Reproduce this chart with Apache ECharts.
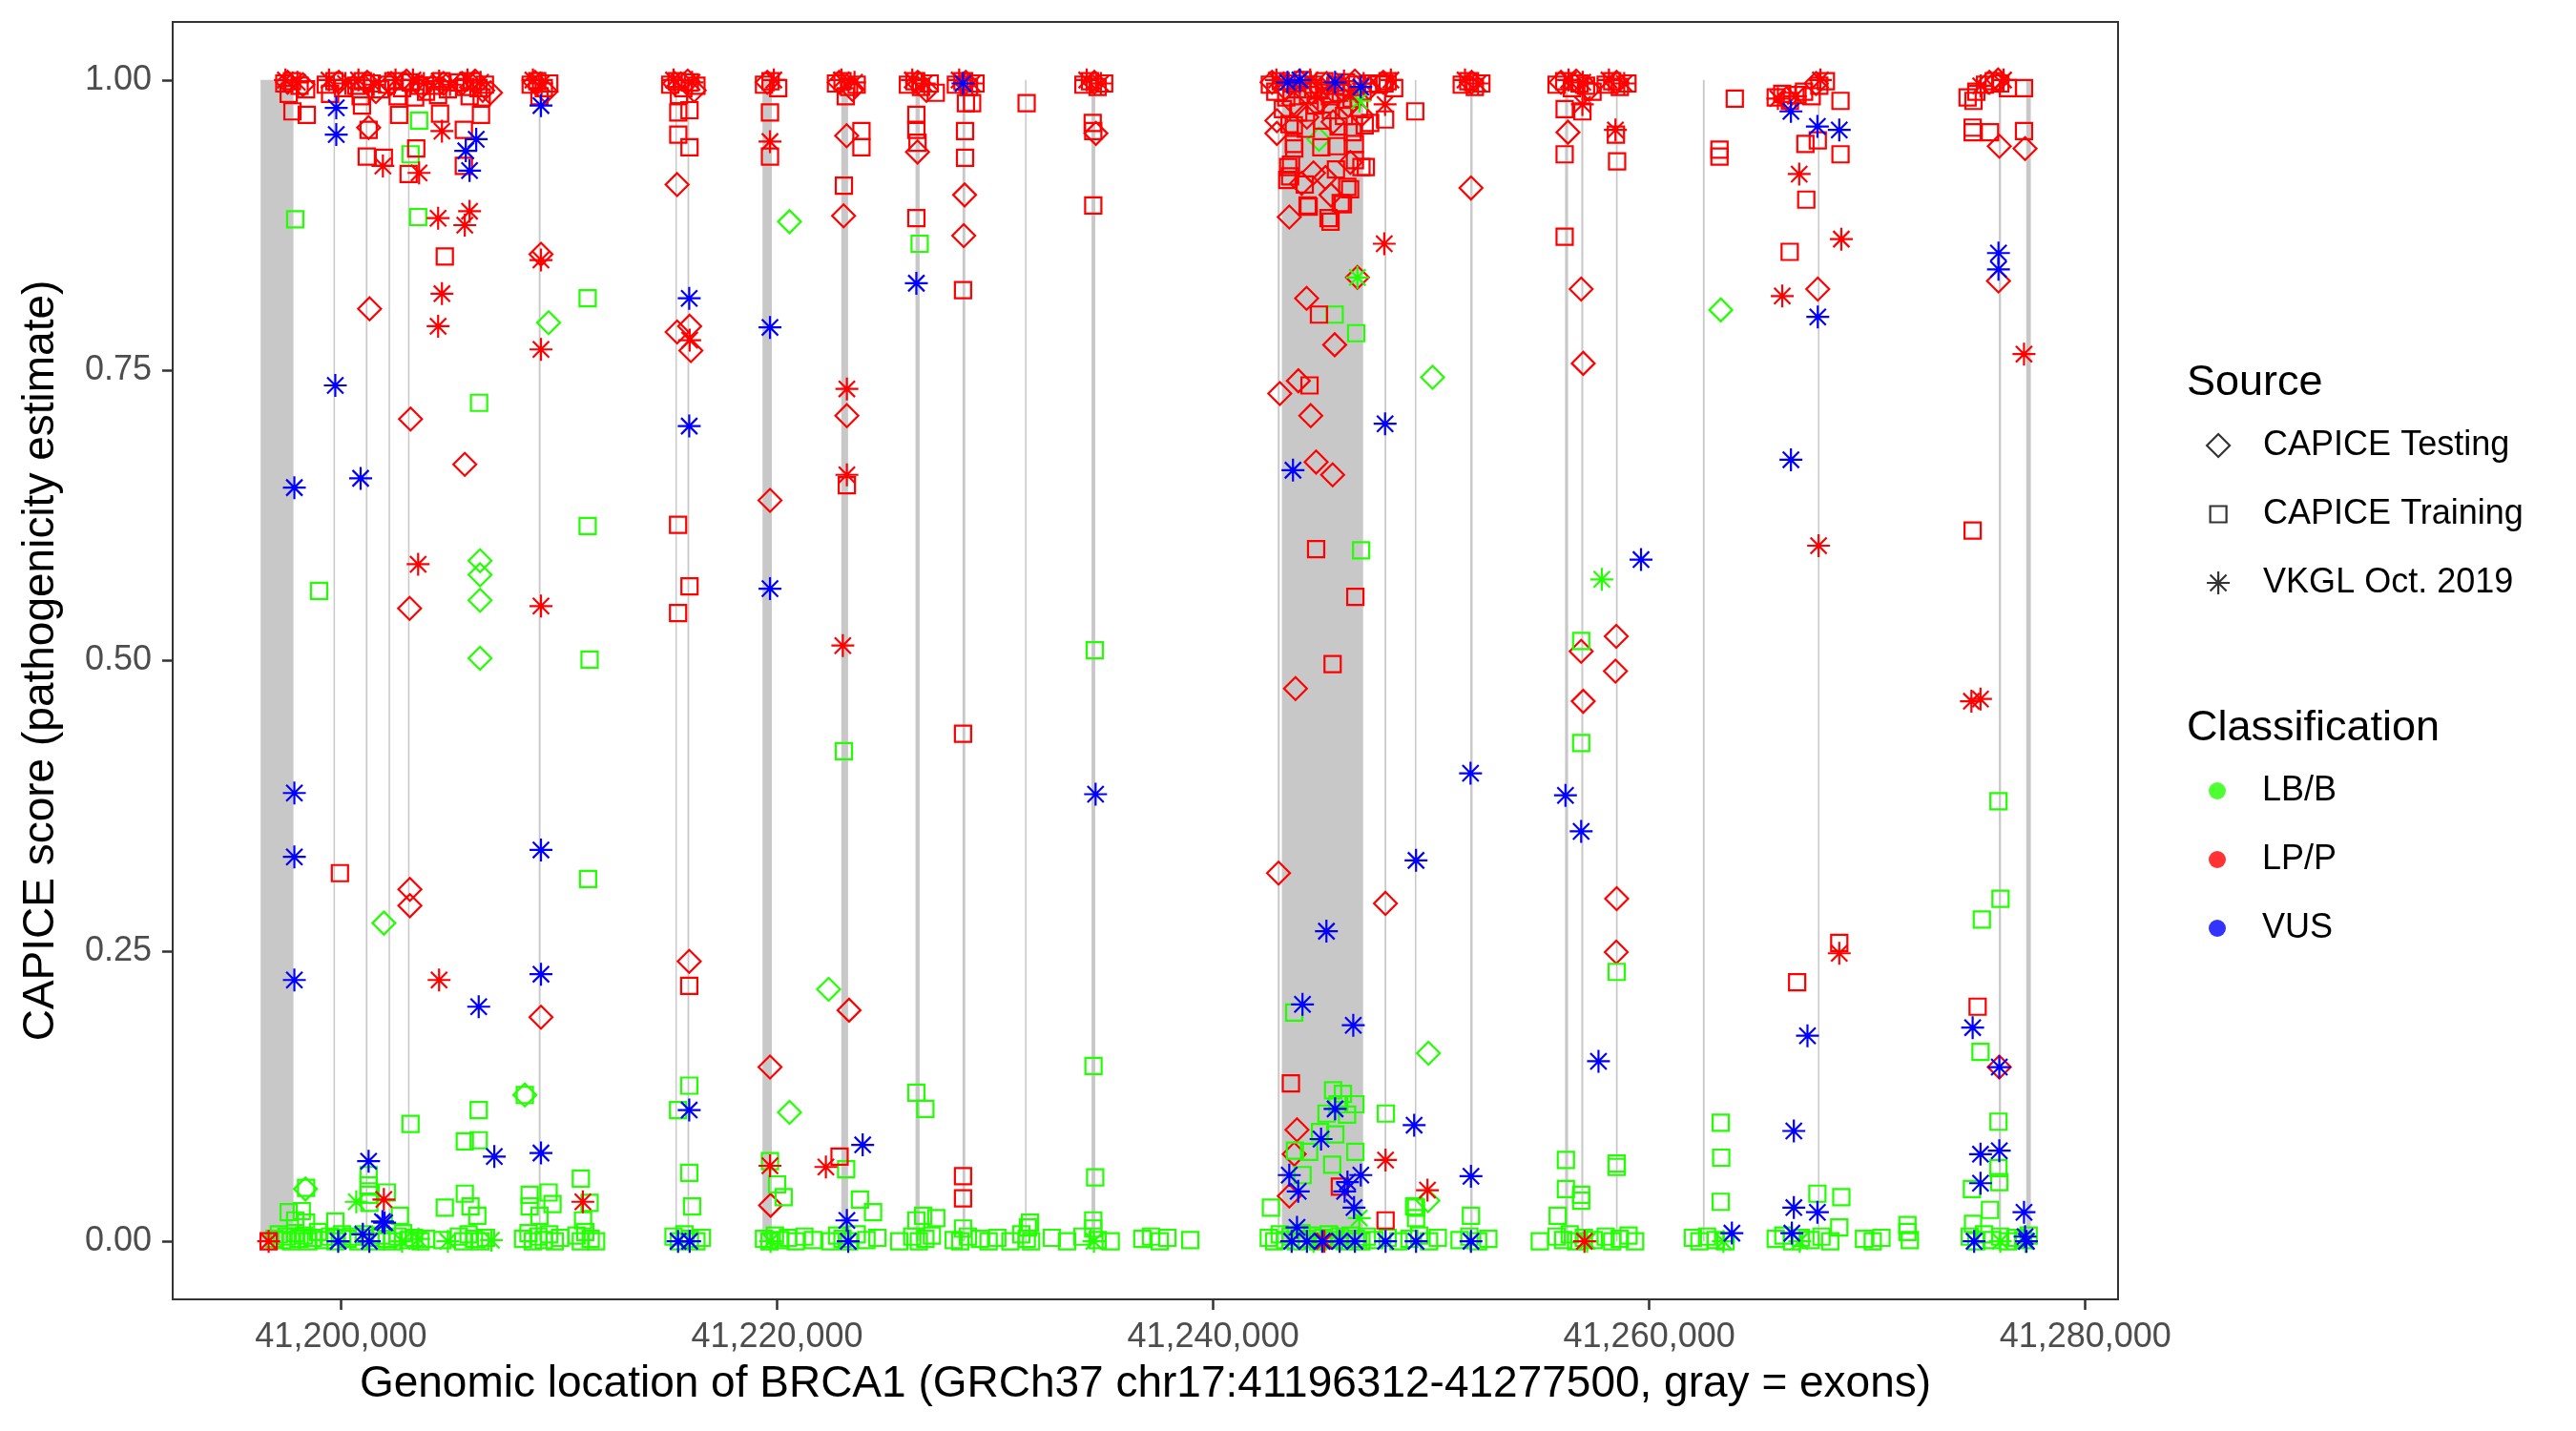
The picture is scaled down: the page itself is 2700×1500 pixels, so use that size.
<!DOCTYPE html>
<html><head><meta charset="utf-8">
<script src="https://cdn.jsdelivr.net/npm/echarts@6/dist/echarts.min.js"></script>
<style>html,body{margin:0;padding:0;background:#fff}#c{width:2700px;height:1500px}</style>
</head><body><div id="c"></div>
<script>
// ---------------- DATA ----------------
const xTicks = [41200000, 41220000, 41240000, 41260000, 41280000];
const yTicks = [0, 0.25, 0.5, 0.75, 1];
const sourceNames = ['CAPICE Testing', 'CAPICE Training', 'VKGL Oct. 2019'];
const classNames = ['LB/B', 'LP/P', 'VUS'];

// exon [start, end] (bp)
const exons = [
  [41196312,41197819],[41199660,41199720],[41201138,41201211],[41202190,41202240],[41203080,41203134],
  [41209069,41209152],[41215350,41215390],[41215891,41215968],[41219330,41219760],[41222945,41223255],
  [41226348,41226538],[41228505,41228631],[41231380,41231430],[41234421,41234592],[41242961,41243049],
  [41243150,41246877],[41247863,41247939],[41249261,41249306],[41251792,41251897],[41256139,41256278],
  [41256885,41256973],[41258473,41258550],[41262460,41262540],[41267743,41267796],[41276034,41276132],
  [41277290,41277500]
];

// CAPICE Testing (diamonds)
const testingLB = [
  [41201965,0.274],[41206376,0.586],[41206376,0.574],[41206376,0.552],[41206376,0.502],[41209520,0.791],
  [41208430,0.126],[41198370,0.045],[41220569,0.878],[41220569,0.111],[41222363,0.217],[41244850,0.949],
  [41250062,0.744],[41249872,0.162],[41249850,0.035],[41263279,0.802]
];
const testingLP = [
  [41201310,0.803],[41203188,0.708],[41203145,0.545],[41203159,0.303],[41203159,0.289],[41205677,0.669],
  [41206856,0.989],[41201266,0.959],[41209171,0.850],[41209171,0.193],
  [41215415,0.910],[41215415,0.783],[41215990,0.788],[41216045,0.767],[41215970,0.241],
  [41219674,0.638],[41219674,0.150],[41219700,0.031],
  [41223050,0.883],[41223190,0.952],[41223200,0.711],[41223300,0.199],
  [41226440,0.938],[41228600,0.901],[41228560,0.866],[41234620,0.954],
  [41242922,0.965],[41242922,0.954],[41243490,0.882],[41244285,0.812],[41245573,0.772],[41243054,0.730],
  [41243906,0.741],[41244475,0.711],[41244721,0.671],[41245478,0.660],[41246615,0.830],[41243774,0.476],
  [41242997,0.317],[41243844,0.096],[41243717,0.075],[41243490,0.039],[41244600,0.920],[41245150,0.916],
  [41245400,0.901],[41244060,0.911],[41246290,0.929],
  [41247901,0.291],[41251823,0.907],
  [41256271,0.955],[41256877,0.820],[41256972,0.756],[41256877,0.508],[41258487,0.521],[41258449,0.491],
  [41256972,0.465],[41258506,0.295],[41258487,0.249],
  [41267729,0.820],[41276054,0.943],[41277236,0.941],[41276016,0.827],[41276054,0.150]
];
const testingLPTop = [
  [41197550,0.998],[41198250,0.996],[41199900,0.998],[41201200,0.998],[41201600,0.990],
  [41202300,0.997],[41203000,0.999],[41203700,0.994],[41204700,0.997],[41205550,0.997],[41206150,0.999],
  [41206500,0.991],[41208900,0.998],[41209400,0.990],[41215300,0.997],[41215900,0.999],[41216200,0.991],
  [41219550,0.998],[41222850,0.998],[41223450,0.992],[41226450,0.998],[41226850,0.991],[41228650,0.998],
  [41234550,0.998],[41242700,0.998],[41243300,0.993],[41243950,0.999],[41244500,0.994],[41245200,0.997],
  [41245900,0.992],[41246500,0.999],[41247150,0.993],[41243700,0.980],[41244900,0.982],[41246200,0.978],
  [41244300,0.968],[41245500,0.964],[41246800,0.970],[41247800,0.998],[41251850,0.998],[41255950,0.998],
  [41256650,0.999],[41257250,0.992],[41258500,0.998],[41266300,0.984],[41267650,0.997],[41275600,0.998],
  [41276000,1.000]
];
const testingVUS = [];

// CAPICE Training (squares)
const trainingLB = [
  [41197900,0.880],[41198996,0.560],[41203581,0.965],[41203188,0.936],[41203537,0.882],[41206332,0.722],
  [41211311,0.812],[41211311,0.616],[41211400,0.501],[41211331,0.312],[41206315,0.113],[41205677,0.086],
  [41206315,0.087],[41203188,0.101],[41208430,0.126],[41201266,0.057],[41201266,0.048],[41201266,0.040],
  [41201300,0.033],[41202100,0.042],[41202700,0.022],[41204760,0.029],[41205677,0.041],[41205940,0.030],
  [41206250,0.022],[41211000,0.054],[41211400,0.033],[41211100,0.018],[41208650,0.040],[41208650,0.030],
  [41209520,0.042],[41209700,0.032],[41209100,0.022],[41198400,0.046],[41197600,0.025],[41197900,0.018],
  [41198200,0.026],[41198400,0.016],[41199738,0.017],
  [41215970,0.134],[41215459,0.113],[41215970,0.059],[41216100,0.030],[41219674,0.069],[41220000,0.049],
  [41220300,0.038],[41223064,0.422],[41223167,0.062],[41223800,0.036],[41224400,0.025],[41226538,0.859],
  [41226387,0.128],[41226800,0.114],[41226387,0.018],[41226700,0.022],[41227300,0.020],[41234569,0.509],
  [41234512,0.151],[41234588,0.055],[41234500,0.018],[41234500,0.011],[41228527,0.011],[41231500,0.012],
  [41231600,0.016],
  [41245573,0.798],[41246558,0.782],[41246785,0.595],[41243717,0.197],[41245500,0.130],[41245950,0.127],
  [41246520,0.118],[41246140,0.109],[41244400,0.077],[41245600,0.092],[41246520,0.077],[41247922,0.110],
  [41245700,0.118],[41245200,0.110],[41244900,0.094],[41244100,0.057],[41245460,0.066],[41243750,0.078],
  [41249217,0.030],[41249304,0.020],[41242650,0.029],[41251823,0.022],[41249304,0.029],
  [41256877,0.517],[41256877,0.429],[41258506,0.232],[41256176,0.070],[41256176,0.045],[41256877,0.040],
  [41256877,0.035],[41255800,0.022],[41258506,0.067],[41258506,0.064],[41263279,0.102],[41263300,0.072],
  [41263279,0.034],[41267711,0.041],[41268809,0.038],[41268714,0.012],[41271840,0.014],[41271840,0.008],
  [41276016,0.379],[41276110,0.295],[41275253,0.277],[41275192,0.163],[41276016,0.103],[41276016,0.063],
  [41276054,0.051],[41274800,0.045],[41275627,0.027],[41274850,0.015]
];
const trainingLBZero = [
  [41196950,0.002],[41197150,0.006],[41197300,0.001],[41197500,0.004],[41197700,0.000],[41197900,0.007],
  [41198100,0.002],[41198300,0.005],[41198500,0.000],[41198700,0.003],[41198950,0.008],[41199200,0.001],
  [41199500,0.004],[41199750,0.000],[41200050,0.006],[41200300,0.002],[41200550,0.004],[41200800,0.000],
  [41201050,0.006],[41201350,0.003],[41201600,0.000],[41201850,0.005],[41202100,0.002],[41202350,0.000],
  [41202600,0.004],[41202850,0.007],[41203100,0.001],[41203350,0.003],[41203650,0.000],[41203900,0.002],
  [41204650,0.001],[41205400,0.004],[41205600,0.000],[41205850,0.006],[41206100,0.002],[41206400,0.000],
  [41206650,0.003],[41208350,0.002],[41208600,0.007],[41208800,0.000],[41209050,0.004],[41209300,0.001],
  [41209550,0.006],[41209800,0.000],[41210050,0.003],[41210800,0.005],[41211000,0.000],[41211200,0.008],
  [41211450,0.002],[41211700,0.000],
  [41215250,0.004],[41215500,0.000],[41215750,0.006],[41216000,0.002],[41216300,0.000],[41216550,0.003],
  [41219400,0.002],[41219650,0.000],[41219900,0.005],[41220150,0.001],[41220500,0.003],[41220850,0.000],
  [41221250,0.004],[41221650,0.001],[41222450,0.000],[41222750,0.005],[41223000,0.002],[41223300,0.000],
  [41223650,0.006],[41224100,0.001],[41224600,0.003],[41225600,0.000],[41226200,0.004],[41226500,0.000],
  [41226800,0.002],[41227100,0.005],[41228100,0.001],[41228400,0.000],[41228750,0.004],[41229300,0.002],
  [41229700,0.000],[41230100,0.003],[41230700,0.000],[41231200,0.006],[41231450,0.002],[41231650,0.000],
  [41232600,0.003],[41233300,0.000],[41234000,0.004],[41234700,0.001],[41235300,0.000],[41236750,0.002],
  [41237150,0.004],[41237550,0.000],[41237900,0.003],[41238950,0.001],
  [41242550,0.003],[41242800,0.000],[41243050,0.006],[41243300,0.001],[41243550,0.004],[41243800,0.000],
  [41244050,0.007],[41244300,0.002],[41244550,0.005],[41244800,0.000],[41245050,0.003],[41245300,0.006],
  [41245550,0.001],[41245800,0.004],[41246050,0.000],[41246300,0.005],[41246550,0.002],[41246800,0.000],
  [41247050,0.004],[41247400,0.001],[41248000,0.003],[41248500,0.000],[41249000,0.002],[41249450,0.005],
  [41249900,0.000],[41250300,0.003],[41251300,0.001],[41251750,0.004],[41252150,0.000],
  [41252620,0.002],[41254980,0.000],[41255750,0.004],[41256050,0.001],[41256350,0.006],[41256650,0.000],
  [41257000,0.003],[41257450,0.001],[41258000,0.004],[41258300,0.000],[41258650,0.002],[41259050,0.005],
  [41259350,0.000],[41262000,0.003],[41262300,0.000],[41262650,0.004],[41263050,0.001],[41263500,0.000],
  [41265800,0.002],[41266150,0.005],[41266550,0.000],[41266950,0.003],[41267400,0.001],[41267900,0.004],
  [41268300,0.000],[41269850,0.002],[41270250,0.000],[41270650,0.003],[41271950,0.001],[41274700,0.004],
  [41275000,0.000],[41275350,0.006],[41275700,0.001],[41276100,0.004],[41276450,0.000],[41276800,0.003],
  [41277150,0.001],[41277400,0.005]
];
const trainingLP = [
  [41197773,0.973],[41198428,0.970],[41199950,0.317],[41200961,0.978],[41201266,0.957],[41201179,0.934],
  [41201965,0.933],[41202664,0.970],[41203101,0.919],[41203450,0.941],[41204542,0.971],[41205633,0.957],
  [41205633,0.926],[41206419,0.970],[41204760,0.848],[41196681,0.000],
  [41215468,0.953],[41215983,0.942],[41215468,0.972],[41215983,0.974],[41215459,0.617],[41215983,0.564],
  [41215459,0.541],[41215970,0.220],[41219674,0.972],[41219674,0.934],
  [41223064,0.909],[41223868,0.956],[41223868,0.942],[41223200,0.651],[41222864,0.073],
  [41226387,0.970],[41226387,0.957],[41226440,0.946],[41226387,0.881],[41227277,0.989],
  [41228660,0.980],[41228944,0.980],[41228620,0.956],[41228620,0.933],[41228527,0.819],[41228527,0.437],
  [41228527,0.056],[41228527,0.037],[41231444,0.980],[41234474,0.963],[41234500,0.956],[41234500,0.892],
  [41244380,0.891],[41245384,0.878],[41245950,0.893],[41246280,0.906],[41243570,0.927],[41243530,0.917],
  [41243720,0.941],[41247000,0.925],[41244853,0.798],[41244418,0.737],[41244721,0.596],[41246520,0.555],
  [41245478,0.497],[41243565,0.136],[41245810,0.047],[41247906,0.018],
  [41243440,0.925],[41243400,0.914],[41244200,0.910],[41244330,0.892],[41245290,0.881],[41245850,0.894],
  [41246150,0.908],[41246800,0.925],[41246500,0.931],[41245630,0.923],[41245660,0.943],[41244960,0.942],
  [41243700,0.945],[41246500,0.945],[41246950,0.961],[41243700,0.961],
  [41247884,0.966],[41247863,0.997],[41249266,0.973],
  [41256119,0.975],[41256119,0.936],[41256119,0.865],[41256934,0.973],[41258470,0.953],[41258525,0.930],
  [41263923,0.984],[41263221,0.940],[41263221,0.934],[41267161,0.945],[41267200,0.897],[41267729,0.948],
  [41268771,0.982],[41268771,0.936],[41266441,0.852],[41268714,0.257],[41266782,0.223],
  [41274870,0.982],[41274832,0.959],[41274832,0.955],[41275627,0.955],[41277187,0.993],[41277187,0.956],
  [41274832,0.612],[41275060,0.202]
];
const trainingLPTop = [
  [41197400,0.997],[41197750,0.999],[41198100,0.995],[41198400,0.992],[41197600,0.988],
  [41199300,0.996],[41199700,0.999],[41200100,0.993],[41199500,0.988],
  [41200700,0.995],[41201000,0.999],[41201400,0.997],[41201800,0.992],[41200900,0.986],
  [41202100,0.996],[41202400,0.999],[41202800,0.993],[41203200,0.998],[41203600,0.995],[41203900,0.990],
  [41202600,0.986],[41203400,0.985],
  [41204300,0.995],[41204600,0.999],[41204900,0.992],[41204450,0.987],
  [41205400,0.998],[41205700,0.994],[41206000,0.999],[41206300,0.993],[41206600,0.996],[41205900,0.986],
  [41206450,0.985],
  [41208700,0.996],[41209000,0.999],[41209300,0.993],[41209550,0.997],[41209100,0.986],
  [41215100,0.996],[41215400,0.999],[41215700,0.993],[41216000,0.998],[41216300,0.995],[41215500,0.987],
  [41219400,0.996],[41219700,0.999],[41220050,0.993],
  [41222700,0.997],[41223000,0.999],[41223300,0.994],[41223650,0.996],[41223150,0.986],
  [41226000,0.996],[41226300,0.999],[41226600,0.994],[41227000,0.997],
  [41228200,0.996],[41228500,0.999],[41228800,0.994],[41229100,0.997],
  [41234050,0.996],[41234350,0.999],[41234700,0.994],[41235000,0.997],
  [41242600,0.996],[41242850,0.990],[41243100,0.999],[41243350,0.985],[41243600,0.997],[41243850,0.992],
  [41244100,1.000],[41244350,0.987],[41244600,0.996],[41244850,0.991],[41245100,0.999],[41245350,0.986],
  [41245600,0.995],[41245850,0.989],[41246100,0.998],[41246350,0.984],[41246600,0.996],[41246850,0.990],
  [41247100,0.997],[41243200,0.975],[41243900,0.972],[41244700,0.978],[41245400,0.974],[41246000,0.969],
  [41246700,0.976],[41243500,0.962],[41244250,0.958],[41245000,0.965],[41245750,0.960],[41246400,0.955],
  [41247200,0.963],
  [41247600,0.996],[41248000,0.999],[41248300,0.993],
  [41251400,0.996],[41251700,0.999],[41252000,0.994],[41252300,0.997],
  [41255750,0.996],[41256100,0.999],[41256450,0.993],[41256800,0.997],[41257100,0.995],[41257400,0.990],
  [41258000,0.996],[41258300,0.999],[41258650,0.994],[41259000,0.997],
  [41265800,0.985],[41266100,0.988],[41266450,0.982],[41266800,0.987],[41267100,0.990],[41267450,0.986],
  [41267800,0.995],[41268100,0.999],
  [41274600,0.985],[41275000,0.990],[41275400,0.996],[41275800,0.999],[41276100,0.997],[41276450,0.993]
];
const trainingVUS = [];

// VKGL Oct. 2019 (asterisks)
const vkglLB = [
  [41246709,0.982],[41246615,0.830],[41257824,0.570],[41200700,0.034],[41202800,0.000],[41203550,0.002],
  [41204900,0.000],[41206900,0.001],[41219700,0.000],[41234531,0.000],[41244600,0.000],[41245700,0.003],
  [41246700,0.020],[41257150,0.000],[41263400,0.000],[41266900,0.000],[41276100,0.000],[41277250,0.000]
];
const vkglLP = [
  [41201921,0.926],[41203581,0.920],[41204629,0.956],[41204454,0.881],[41205677,0.875],[41205896,0.887],
  [41204629,0.816],[41204454,0.788],[41203537,0.583],[41204498,0.225],[41209171,0.845],[41209171,0.768],
  [41209171,0.547],[41201965,0.036],[41211092,0.034],[41196681,0.000],
  [41215990,0.776],[41219674,0.947],[41219674,0.065],[41223200,0.734],[41223200,0.660],[41223014,0.513],
  [41222238,0.064],[41247846,0.859],[41247906,0.070],[41249828,0.044],[41247884,0.979],
  [41256934,0.979],[41258449,0.957],[41266877,0.919],[41268809,0.863],[41266100,0.814],[41267767,0.599],
  [41268714,0.248],[41274775,0.465],[41275192,0.467],[41277187,0.764],[41257028,0.000],[41245100,0.000]
];
const vkglLPTop = [
  [41197450,1.000],[41198000,0.998],[41199450,1.000],[41200200,0.997],[41200800,1.000],[41201500,0.996],
  [41202500,1.000],[41203300,1.000],[41203800,0.997],[41204500,0.999],[41205000,0.996],[41205800,1.000],
  [41206400,0.998],[41208800,1.000],[41209200,0.997],[41215250,1.000],[41216100,0.998],[41219850,1.000],
  [41222950,1.000],[41223550,0.998],[41226200,1.000],[41226750,0.997],[41228350,1.000],[41228950,0.997],
  [41234200,1.000],[41234850,0.997],[41242900,1.000],[41243750,0.997],[41244450,1.000],[41245300,0.996],
  [41246000,0.999],[41246900,0.997],[41244800,0.985],[41246300,0.987],[41248150,1.000],[41251550,1.000],
  [41252150,0.997],[41256300,1.000],[41256950,0.998],[41258150,1.000],[41258850,0.997],[41265900,0.984],
  [41266700,0.986],[41267850,1.000],[41275200,0.995],[41276250,1.000]
];
const vkglVUS = [
  [41199782,0.976],[41199782,0.953],[41199738,0.737],[41197860,0.649],[41197860,0.386],[41197860,0.331],
  [41197860,0.225],[41200900,0.657],[41206201,0.949],[41205721,0.939],[41205896,0.922],[41209171,0.978],
  [41209171,0.337],[41209171,0.230],[41209171,0.076],[41206315,0.202],[41207031,0.073],[41201266,0.069],
  [41199870,0.000],[41201000,0.006],[41201300,0.000],[41202000,0.016],[41201900,0.017],
  [41215970,0.812],[41215970,0.702],[41215970,0.113],[41215459,0.000],[41215990,0.000],
  [41219674,0.787],[41219674,0.562],[41223925,0.083],[41223262,0.000],[41223200,0.018],
  [41226387,0.825],[41228527,0.997],[41234607,0.385],
  [41243410,0.998],[41243976,1.000],[41245592,0.998],[41246771,0.994],[41243660,0.664],[41245194,0.267],
  [41244096,0.204],[41246425,0.186],[41245592,0.114],[41244948,0.088],[41243490,0.057],[41243900,0.043],
  [41246771,0.057],[41246160,0.051],[41246030,0.043],[41246460,0.029],[41243844,0.012],[41244300,0.000],
  [41245000,0.000],[41245800,0.000],[41246500,0.000],[41243600,0.000],
  [41247884,0.704],[41247906,0.000],[41249217,0.100],[41249304,0.328],[41249304,0.000],[41251804,0.403],
  [41251823,0.056],[41251823,0.000],
  [41256157,0.384],[41256877,0.353],[41257672,0.155],[41259623,0.587],[41263790,0.007],
  [41266498,0.973],[41267711,0.960],[41268714,0.957],[41267729,0.796],[41266498,0.673],[41267256,0.177],
  [41266631,0.095],[41266631,0.029],[41267711,0.025],[41266540,0.007],
  [41276016,0.851],[41276016,0.837],[41274832,0.184],[41276054,0.150],[41275192,0.075],[41276054,0.078],
  [41275192,0.050],[41277187,0.025],[41277236,0.004],[41274900,0.000],[41277300,0.000]
];

// ---------------- STYLE ----------------
const FONT = 'Liberation Sans';
const COLORS = {'LB/B': '#22FF00', 'LP/P': '#FF0000', 'VUS': '#0000FF'};
const ASTERISK = 'path://M5,0L5,10M0,5L10,5M1.464,1.464L8.536,8.536M1.464,8.536L8.536,1.464';
const SHAPES = {
  'CAPICE Testing': {symbol: 'diamond', size: 24},
  'CAPICE Training': {symbol: 'rect', size: 17},
  'VKGL Oct. 2019': {symbol: ASTERISK, size: 24}
};
const LEGEND_ICONS = {
  'CAPICE Testing': 'path://M12,0L24,12L12,24L0,12Z',
  'CAPICE Training': 'path://M0,0M24,24M3.5,3.5L20.5,3.5L20.5,20.5L3.5,20.5Z',
  'VKGL Oct. 2019': ASTERISK
};
const DOT = 'path://M0,0M24,24M3,12A9,9,0,1,1,21,12A9,9,0,1,1,3,12Z';

function pts(name, data, source, cls) {
  return {
    name: name, type: 'scatter', data: data, silent: true, animation: false,
    symbol: SHAPES[source].symbol, symbolSize: SHAPES[source].size,
    itemStyle: {color: 'rgba(0,0,0,0)', borderColor: COLORS[cls], borderWidth: 2.2, opacity: 1},
    z: 3
  };
}

const series = [
  {
    name: 'exons', type: 'custom', data: exons, silent: true, animation: false, z: 1,
    encode: {x: [0, 1]},
    renderItem: function (params, api) {
      const a = api.coord([api.value(0), 1]);
      const b = api.coord([api.value(1), 0]);
      let x = a[0], w = b[0] - a[0];
      if (w < 1.5) { x = (a[0] + b[0]) / 2 - 0.75; w = 1.5; }
      return {type: 'rect', shape: {x: x, y: a[1], width: w, height: b[1] - a[1]},
              style: {fill: '#C8C8C8'}};
    }
  },
  pts('t-lb', testingLB, 'CAPICE Testing', 'LB/B'),
  pts('t-lp', testingLP.concat(testingLPTop), 'CAPICE Testing', 'LP/P'),
  pts('t-vus', testingVUS, 'CAPICE Testing', 'VUS'),
  pts('tr-lb', trainingLB.concat(trainingLBZero), 'CAPICE Training', 'LB/B'),
  pts('tr-lp', trainingLP.concat(trainingLPTop), 'CAPICE Training', 'LP/P'),
  pts('tr-vus', trainingVUS, 'CAPICE Training', 'VUS'),
  pts('v-lb', vkglLB, 'VKGL Oct. 2019', 'LB/B'),
  pts('v-lp', vkglLP.concat(vkglLPTop), 'VKGL Oct. 2019', 'LP/P'),
  pts('v-vus', vkglVUS, 'VKGL Oct. 2019', 'VUS')
];
// legend-only series
sourceNames.forEach(function (n) {
  series.push({name: n, type: 'scatter', data: [], symbol: LEGEND_ICONS[n],
    itemStyle: {color: 'rgba(0,0,0,0)', borderColor: '#000', borderWidth: 2.2}});
});
classNames.forEach(function (n) {
  series.push({name: n, type: 'scatter', data: [], symbol: DOT, itemStyle: {color: COLORS[n]}});
});

const legendText = {fontSize: 36, color: '#000', fontFamily: FONT, padding: [0, 0, 0, 30], lineHeight: 36};

const option = {
  backgroundColor: '#fff',
  animation: false,
  grid: {left: 181, right: 480, top: 23, bottom: 138, show: true, borderColor: '#333333', borderWidth: 2, backgroundColor: '#fff', containLabel: false},
  xAxis: {
    type: 'value', min: 41192280, max: 41281500,
    splitLine: {show: false}, axisLine: {show: false, onZero: false},
    axisTick: {show: true, length: 11, lineStyle: {color: '#333333', width: 2.5}, customValues: xTicks},
    axisLabel: {customValues: xTicks, fontSize: 36, color: '#4D4D4D', fontFamily: FONT, margin: 22,
      formatter: function (v) { return Number(v).toLocaleString('en-US'); }},
    name: 'Genomic location of BRCA1 (GRCh37 chr17:41196312-41277500, gray = exons)',
    nameLocation: 'middle', nameGap: 66,
    nameTextStyle: {fontSize: 46, color: '#000', fontFamily: FONT}
  },
  yAxis: {
    type: 'value', min: -0.05, max: 1.05,
    splitLine: {show: false}, axisLine: {show: false, onZero: false},
    axisTick: {show: true, length: 11, lineStyle: {color: '#333333', width: 2.5}, customValues: yTicks},
    axisLabel: {customValues: yTicks, fontSize: 36, color: '#4D4D4D', fontFamily: FONT, margin: 22,
      formatter: function (v) { return Number(v).toFixed(2); }},
    name: 'CAPICE score (pathogenicity estimate)',
    nameLocation: 'middle', nameGap: 115, nameRotate: 90,
    nameTextStyle: {fontSize: 46, color: '#000', fontFamily: FONT}
  },
  legend: [
    {
      orient: 'vertical', left: 2312, top: 449, padding: 0, itemGap: 36,
      itemWidth: 24, itemHeight: 24, selectedMode: false, textStyle: legendText,
      data: sourceNames.map(function (n) {
        return {name: n, icon: LEGEND_ICONS[n],
          itemStyle: {color: 'rgba(0,0,0,0)', borderColor: '#000', borderWidth: 2.2}};
      })
    },
    {
      orient: 'vertical', left: 2312, top: 811, padding: 0, itemGap: 36,
      itemWidth: 24, itemHeight: 24, selectedMode: false, textStyle: legendText,
      data: classNames.map(function (n) {
        return {name: n, icon: DOT, itemStyle: {color: COLORS[n], borderWidth: 0}};
      })
    }
  ],
  graphic: [
    {type: 'text', left: 2292, top: 379, style: {text: 'Source', fontSize: 45, fill: '#000', fontFamily: FONT}},
    {type: 'text', left: 2292, top: 741, style: {text: 'Classification', fontSize: 45, fill: '#000', fontFamily: FONT}}
  ],
  series: series
};

const chart = echarts.init(document.getElementById('c'), null, {renderer: 'canvas', width: 2700, height: 1500});
chart.setOption(option);
</script>
</body></html>
